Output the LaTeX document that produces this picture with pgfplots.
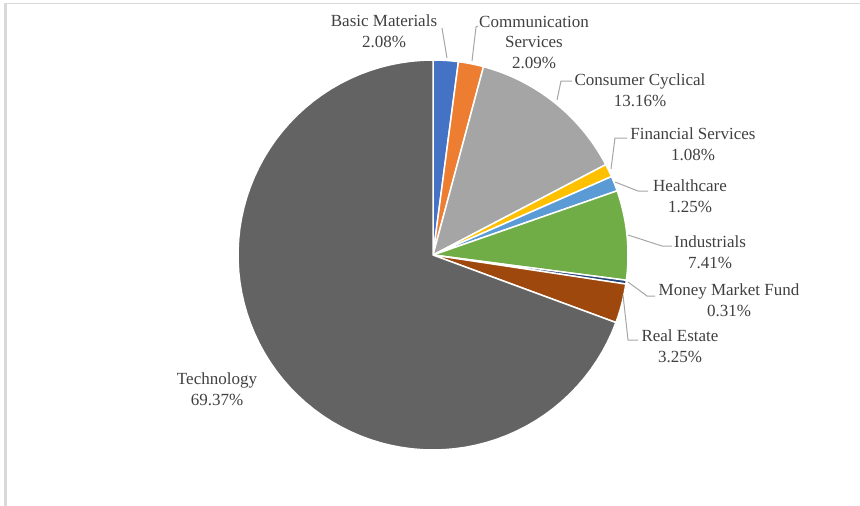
\documentclass[border=0pt]{standalone}
\usepackage{pgfplots}
\pgfplotsset{compat=1.18}
\usepackage{fontspec}
\setmainfont{Liberation Serif}

\definecolor{cBM}{HTML}{4472C4}
\definecolor{cCS}{HTML}{ED7D31}
\definecolor{cCC}{HTML}{A5A5A5}
\definecolor{cFS}{HTML}{FFC000}
\definecolor{cHC}{HTML}{5B9BD5}
\definecolor{cIN}{HTML}{70AD47}
\definecolor{cMM}{HTML}{264478}
\definecolor{cRE}{HTML}{9E480E}
\definecolor{cTE}{HTML}{636363}
\definecolor{lbl}{HTML}{404040}
\definecolor{lead}{HTML}{A6A6A6}
\definecolor{frame}{HTML}{D9D9D9}

\tikzset{lab/.style={font=\fontsize{17}{20.5}\selectfont, text=lbl, align=center, inner sep=0pt}}

% slice: start percent, share percent, colour (clockwise from 12 o'clock)
\newcommand{\slice}[3]{%
  \pgfmathsetmacro{\aS}{3.6*#1}%
  \pgfmathsetmacro{\aE}{3.6*(#1+#2)}%
  \addplot[fill=#3, draw=white, line width=1.5pt, line join=round,
    domain=\aS:\aE, samples=80, variable=\t]
    ({433+195*sin(t)},{255-195*cos(t)}) -- (axis cs:433,255) -- cycle;
}

\begin{document}
\begin{tikzpicture}
\begin{axis}[
  scale only axis, width=860pt, height=506pt,
  xmin=0, xmax=860, ymin=0, ymax=506, y dir=reverse,
  hide axis, clip=false,
]
\coordinate (bl) at (axis cs:0,506);
\coordinate (tr) at (axis cs:860,0);

% frame
\addplot[frame, line width=1.5pt, no marks] coordinates {(4,3.5) (860,3.5)};
\addplot[frame, line width=2.5pt, no marks] coordinates {(5.5,3) (5.5,506)};

% pie: Basic Materials, Communication Services, Consumer Cyclical, Financial Services,
% Healthcare, Industrials, Money Market Fund, Real Estate, Technology
\slice{0}{2.08}{cBM}
\slice{2.08}{2.09}{cCS}
\slice{4.17}{13.16}{cCC}
\slice{17.33}{1.08}{cFS}
\slice{18.41}{1.25}{cHC}
\slice{19.66}{7.41}{cIN}
\slice{27.07}{0.31}{cMM}
\slice{27.38}{3.25}{cRE}
\slice{30.63}{69.37}{cTE}

% leader lines
\addplot[lead, line width=1pt, no marks] coordinates {(447,58) (442,28)};
\addplot[lead, line width=1pt, no marks] coordinates {(472,61) (476,27) (478,26)};
\addplot[lead, line width=1pt, no marks] coordinates {(557,100) (561,81) (572,81)};
\addplot[lead, line width=1pt, no marks] coordinates {(611,169) (615,138) (627,138)};
\addplot[lead, line width=1pt, no marks] coordinates {(615,182) (638,191) (648,191)};
\addplot[lead, line width=1pt, no marks] coordinates {(628,235) (662,246) (672,246)};
\addplot[lead, line width=1pt, no marks] coordinates {(628,282) (647,296) (655,296)};
\addplot[lead, line width=1pt, no marks] coordinates {(623,295) (628,340) (638,340)};

% labels
\node[lab] at (axis cs:384,31) {Basic Materials\\2.08\%};
\node[lab] at (axis cs:534,42) {Communication\\Services\\2.09\%};
\node[lab] at (axis cs:640,90) {Consumer Cyclical\\13.16\%};
\node[lab] at (axis cs:693,144) {Financial Services\\1.08\%};
\node[lab] at (axis cs:690,196) {Healthcare\\1.25\%};
\node[lab] at (axis cs:710,252) {Industrials\\7.41\%};
\node[lab] at (axis cs:729,300) {Money Market Fund\\0.31\%};
\node[lab] at (axis cs:680,346) {Real Estate\\3.25\%};
\node[lab] at (axis cs:217,389) {Technology\\69.37\%};
\end{axis}
\pgfresetboundingbox
\path (bl) rectangle (tr);
\end{tikzpicture}
\end{document}
